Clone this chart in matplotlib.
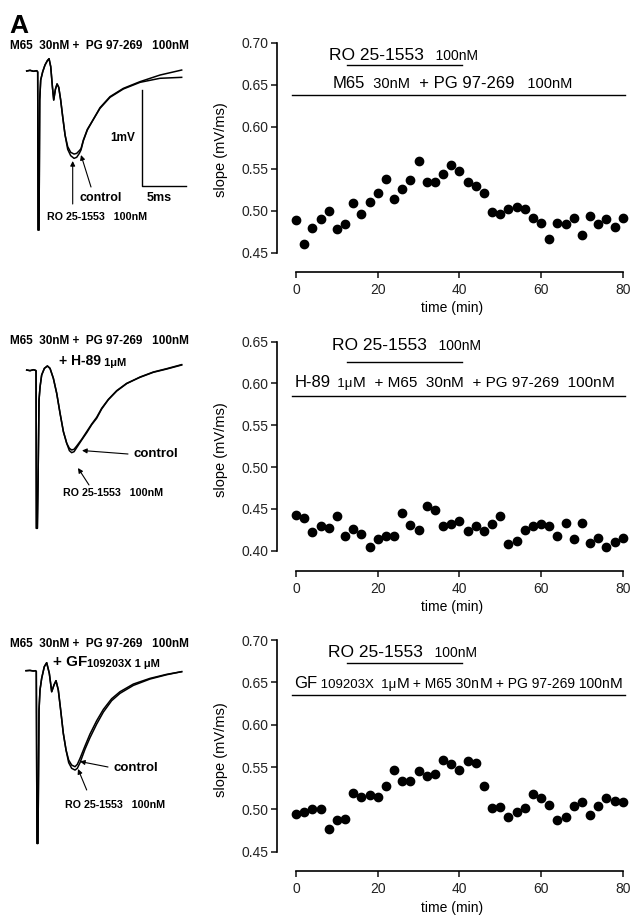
import matplotlib
matplotlib.use('Agg')
import matplotlib.pyplot as plt

plt.rcParams['font.family'] = ['Liberation Sans', 'DejaVu Sans']

# ---------------- data: slope vs time ----------------
time_min = [0, 2, 4, 6, 8, 10, 12, 14, 16, 18, 20, 22, 24, 26, 28, 30, 32, 34, 36, 38,
            40, 42, 44, 46, 48, 50, 52, 54, 56, 58, 60, 62, 64, 66, 68, 70, 72, 74, 76, 78, 80]

slope_pg = [0.489, 0.461, 0.480, 0.490, 0.500, 0.479, 0.484, 0.509, 0.497, 0.511,
            0.522, 0.538, 0.514, 0.526, 0.537, 0.559, 0.534, 0.535, 0.544, 0.555,
            0.548, 0.535, 0.530, 0.521, 0.499, 0.497, 0.502, 0.505, 0.502, 0.492,
            0.486, 0.467, 0.486, 0.484, 0.492, 0.472, 0.494, 0.484, 0.490, 0.481, 0.492]

slope_h89 = [0.443, 0.439, 0.422, 0.430, 0.427, 0.442, 0.418, 0.426, 0.420, 0.405,
             0.414, 0.418, 0.418, 0.445, 0.431, 0.425, 0.453, 0.449, 0.430, 0.432,
             0.435, 0.423, 0.429, 0.423, 0.432, 0.441, 0.408, 0.412, 0.425, 0.430,
             0.432, 0.430, 0.418, 0.433, 0.414, 0.433, 0.409, 0.415, 0.404, 0.410, 0.415]

slope_gf = [0.494, 0.497, 0.501, 0.500, 0.477, 0.487, 0.489, 0.519, 0.515, 0.517,
            0.515, 0.527, 0.546, 0.534, 0.534, 0.545, 0.539, 0.542, 0.558, 0.553,
            0.547, 0.557, 0.555, 0.527, 0.502, 0.503, 0.491, 0.497, 0.502, 0.518,
            0.513, 0.505, 0.488, 0.491, 0.504, 0.509, 0.493, 0.504, 0.514, 0.510, 0.509]

ro_period = [12.4, 40.7]          # RO 25-1553 application (min)
bath_period = [-1.0, 80.5]        # background drugs (min)

# ---------------- data: example traces (ms, mV) ----------------
# panel 1
t1_common = [0, 0.38, 0.76, 1.14, 1.25, 1.29, 1.40, 1.48, 1.59, 1.82, 2.08, 2.35, 2.54,
             2.73, 2.92, 3.07, 3.26, 3.45, 3.64, 3.86, 4.09, 4.36]
v1_common = [0, 0.007, -0.003, 0.003, -0.010, -1.656, -1.656, -0.302, -0.094, -0.007, 0.0625,
             0.108, 0.128, 0.045, -0.163, -0.302, -0.191, -0.135, -0.170, -0.302, -0.476, -0.667]
t1_tail = [4.66, 5.0, 5.38, 5.68, 5.98, 6.17, 6.44, 6.89, 7.58, 8.33, 9.47, 10.98, 12.88, 15.15, 17.61]
v1_ctrl = [-0.788, -0.847, -0.865, -0.858, -0.830, -0.809, -0.719, -0.608, -0.503, -0.389,
           -0.274, -0.1875, -0.118, -0.076, -0.066]
v1_ro = [-0.816, -0.882, -0.910, -0.899, -0.858, -0.823, -0.726, -0.615, -0.503, -0.382,
         -0.267, -0.181, -0.111, -0.042, 0.010]

# panel 2
t2_common = [0, 0.38, 0.76, 0.98, 1.06, 1.10, 1.21, 1.29, 1.40, 1.52, 1.70, 2.01, 2.35,
             2.65, 3.03, 3.41, 3.79, 4.17, 4.55]
v2_common = [0, -0.007, 0.003, -0.003, -0.007, -1.649, -1.649, -1.146, -0.3125, -0.174,
             -0.052, 0.017, 0.042, 0.017, -0.087, -0.243, -0.451, -0.642, -0.764]
t2_tail = [4.85, 5.11, 5.38, 5.68, 6.25, 6.82, 7.39, 7.95, 8.52, 9.28, 10.23, 11.36, 12.88,
           14.39, 15.91, 17.61]
v2_ctrl = [-0.816, -0.833, -0.826, -0.792, -0.722, -0.642, -0.5625, -0.493, -0.399, -0.306,
           -0.215, -0.139, -0.076, -0.024, 0.010, 0.052]
v2_ro = [-0.840, -0.861, -0.851, -0.809, -0.729, -0.653, -0.569, -0.503, -0.406, -0.309,
         -0.219, -0.142, -0.073, -0.021, 0.014, 0.056]

# panel 3
t3_common = [0, 0.45, 0.83, 1.06, 1.17, 1.25, 1.36, 1.48, 1.59, 1.78, 2.08, 2.35, 2.65,
             2.92, 3.18, 3.41, 3.67, 3.94, 4.24, 4.55]
v3_common = [0, 0.003, -0.003, 0, -0.007, -1.799, -1.799, -0.410, -0.201, -0.080, 0.042,
             0.083, -0.028, -0.219, -0.149, -0.104, -0.201, -0.410, -0.653, -0.826]
t3_tail = [4.85, 5.19, 5.57, 5.83, 6.14, 6.70, 7.27, 8.03, 8.79, 9.73, 10.68, 12.20, 14.09,
           15.98, 17.69]
v3_ctrl = [-0.931, -0.983, -1.0, -0.976, -0.913, -0.785, -0.660, -0.521, -0.403, -0.292,
           -0.219, -0.139, -0.080, -0.038, -0.010]
v3_ro = [-0.958, -1.017, -1.035, -1.017, -0.958, -0.819, -0.698, -0.556, -0.431, -0.3125,
         -0.236, -0.153, -0.087, -0.042, -0.010]

scale_ms = 5
scale_mV = 1

# ---------------- figure ----------------
W, H = 632, 918
fig = plt.figure(figsize=(W / 100, H / 100), dpi=100)


def px_axes(l, t, r, b):
    return fig.add_axes([l / W, 1 - b / H, (r - l) / W, (b - t) / H])


PPM = (622.7 - 296) / 80.0   # pixels per minute


def chain(ax, x, y, pieces, transform=None, **kw):
    if transform is None:
        transform = ax.transData
    t = ax.text(x, y, pieces[0][0], fontsize=pieces[0][1], va='bottom', ha='left',
                clip_on=False, transform=transform, **kw)
    for s, fs in pieces[1:]:
        t = ax.annotate(s, xy=(1, 0), xycoords=t, va='bottom', ha='left', fontsize=fs,
                        annotation_clip=False, **kw)
    return t


def scatter_panel(top_px, ytop, ybot, ybot_px, axis_px, yticks, values,
                  ro_y, bath_y, ro_text_pos, bath_text_pos, bath_pieces, label_px):
    ax = px_axes(277, top_px, 627, axis_px)
    ppu = (ybot_px - top_px) / (ytop - ybot)
    ax.set_ylim(ybot - (axis_px - ybot_px) / ppu, ytop)
    ax.set_xlim(-(296 - 277) / PPM, (627 - 296) / PPM)
    ax.plot(time_min, values, 'o', color='black', ms=6.0, mec='black', clip_on=False)
    for s in ['top', 'right']:
        ax.spines[s].set_visible(False)
    for s in ['left', 'bottom']:
        ax.spines[s].set_linewidth(1.2)
    ax.spines['left'].set_bounds(ybot, ytop)
    ax.spines['bottom'].set_bounds(0, 80)
    ax.set_yticks(yticks)
    ax.set_yticklabels(['%.2f' % v for v in yticks])
    ax.set_xticks([0, 20, 40, 60, 80])
    ax.tick_params(axis='y', direction='out', length=4, width=1.2, labelsize=10, pad=2,
                   colors='#222222')
    ax.tick_params(axis='x', direction='out', length=4, width=1.2, labelsize=10, pad=4,
                   colors='#222222')
    ax.set_xlabel('time (min)', fontsize=10, labelpad=3)
    ax.set_ylabel('slope (mV/ms)', fontsize=10.5)
    ax.yaxis.set_label_coords((label_px[0] - 277) / (627 - 277),
                              (axis_px - label_px[1]) / (axis_px - top_px))
    ax.plot(ro_period, [ro_y, ro_y], color='black', lw=1.0, clip_on=False)
    ax.plot(bath_period, [bath_y, bath_y], color='black', lw=1.0, clip_on=False)
    chain(ax, ro_text_pos[0], ro_text_pos[1], [('RO 25-1553', 12.5), ('   100nM', 10)])
    chain(ax, bath_text_pos[0], bath_text_pos[1], bath_pieces)
    return ax


scatter_panel(43, 0.70, 0.45, 253, 272, [0.45, 0.50, 0.55, 0.60, 0.65, 0.70], slope_pg,
              0.6735, 0.6385, (8.1, 0.676), (9.0, 0.6425),
              [('M65', 12), ('  30nM', 10.5), ('  + PG 97-269', 12), ('   100nM', 10.5)],
              (228, 150))

scatter_panel(341.5, 0.65, 0.40, 550.7, 570.7, [0.40, 0.45, 0.50, 0.55, 0.60, 0.65], slope_h89,
              0.6258, 0.5848, (8.8, 0.636), (-0.4, 0.592),
              [('H-89', 12), ('  1\u03bc', 9.5), ('M', 11), ('  + M65  30n', 11), ('M', 11),
               ('  + PG 97-269  100n', 11), ('M', 11)],
              (228, 450))

scatter_panel(640, 0.70, 0.45, 851.7, 871.3, [0.45, 0.50, 0.55, 0.60, 0.65, 0.70], slope_gf,
              0.6732, 0.6353, (7.8, 0.676), (-0.4, 0.6395),
              [('GF', 12), (' 109203X  1\u03bc', 9.5), ('M', 11), (' + M65 30n', 10), ('M', 11),
               (' + PG 97-269 100n', 10), ('M', 11)],
              (228, 750))

# ---------------- traces ----------------
PX_MS = 8.8
PX_MV = 96.0


def trace_axes(x0_px, base_px, top_px, bottom_px):
    ax = px_axes(0, top_px, 232, bottom_px)
    ax.set_xlim((0 - x0_px) / PX_MS, (232 - x0_px) / PX_MS)
    ax.set_ylim((base_px - bottom_px) / PX_MV, (base_px - top_px) / PX_MV)
    ax.axis('off')
    return ax


def draw_trace(ax, tc, vc, tt, vctrl, vro):
    ax.plot(tc + tt, vc + vctrl, color='black', lw=1.1)
    ax.plot(tc + tt, vc + vro, color='black', lw=1.1)


ta1 = trace_axes(26.7, 71, 20, 290)
draw_trace(ta1, t1_common, v1_common, t1_tail, v1_ctrl, v1_ro)
sx, sy = 13.07, -1.195
ta1.plot([sx, sx, sx + scale_ms], [sy + scale_mV, sy, sy], color='black', lw=1.0)

ta2 = trace_axes(26.7, 370, 320, 600)
draw_trace(ta2, t2_common, v2_common, t2_tail, v2_ctrl, v2_ro)

ta3 = trace_axes(26.0, 670.7, 620, 900)
draw_trace(ta3, t3_common, v3_common, t3_tail, v3_ctrl, v3_ro)


def ftext(x, y, s, fs, **kw):
    fig.text(x / W, 1 - y / H, s, fontsize=fs, fontweight='bold', **kw)


def arrow(x0, y0, x1, y1):
    fig.add_artist(matplotlib.patches.FancyArrowPatch(
        (x0 / W, 1 - y0 / H), (x1 / W, 1 - y1 / H), transform=fig.transFigure,
        arrowstyle='-|>', mutation_scale=7, lw=0.8, color='black', shrinkA=0, shrinkB=0))


ftext(9, 33, 'A', 19)

hdr = 'M65  30nM +  PG 97-269   100nM'
ftext(10, 49, hdr, 8.5)
ftext(10, 344, hdr, 8.5)
ftext(10, 647, hdr, 8.5)

# panel 1 labels
ftext(110, 141, '1mV', 8.5)
ftext(147, 201, '5ms', 9)
ftext(80, 201, 'control', 9)
ftext(47, 220, 'RO 25-1553   100nM', 7.7)
arrow(91, 187, 81, 155)
arrow(72.7, 204, 72.7, 161)

# panel 2 labels
chain(ta2, 59 / W, 1 - 368 / H, [('+ H-89', 10), (' 1\u03bcM', 8)],
      transform=fig.transFigure, fontweight='bold')
ftext(133, 457, 'control', 9.5)
ftext(63, 496, 'RO 25-1553   100nM', 7.7)
arrow(128, 454, 82, 450.5)
arrow(89, 485, 78, 468)

# panel 3 labels
chain(ta3, 53 / W, 1 - 669 / H, [('+ GF', 11), ('109203X 1 \u03bcM', 8)],
      transform=fig.transFigure, fontweight='bold')
ftext(113, 771, 'control', 9.5)
ftext(65, 808, 'RO 25-1553   100nM', 7.7)
arrow(108, 767, 80, 761.5)
arrow(86.7, 790, 78, 769)

fig.savefig('out.png', dpi=100)
